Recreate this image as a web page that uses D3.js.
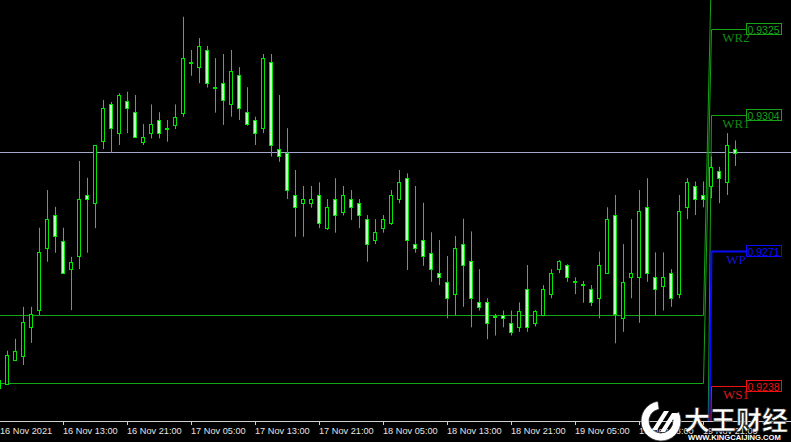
<!DOCTYPE html>
<html><head><meta charset="utf-8">
<script src="https://cdn.jsdelivr.net/npm/d3@7"></script>
<style>
html,body{margin:0;padding:0;background:#000;overflow:hidden;}
svg{display:block;}
</style></head>
<body>
<svg id="c" width="791" height="442"></svg>
<script>
// ---- DATA (hourly bars) ----
const opens = [0.92375,0.92385,0.92443,0.92453,0.92524,0.92565,0.92717,0.92797,0.92734,0.92665,
0.92697,0.92845,0.92826,0.92978,0.93068,0.92997,0.93076,0.93048,0.92976,0.92997,
0.93029,0.93010,0.93017,0.93047,0.93171,0.93158,0.93200,0.93110,0.93119,0.93067,
0.93139,0.93048,0.93029,0.93009,0.93170,0.92958,0.92948,0.92846,0.92826,0.92826,
0.92846,0.92765,0.92836,0.92805,0.92836,0.92826,0.92787,0.92736,0.92765,0.92777,
0.92836,0.92887,0.92726,0.92736,0.92705,0.92655,0.92634,0.92604,0.92726,0.92685,
0.92584,0.92584,0.92550,0.92553,0.92534,0.92523,0.92616,0.92534,0.92553,0.92604,
0.92665,0.92675,0.92635,0.92628,0.92616,0.92594,0.92656,0.92796,0.92545,0.92645,
0.92645,0.92816,0.92645,0.92625,0.92655,0.92604,0.92816,0.92868,0.92846,0.92868,
0.92905,0.92877,0.92958];
const highs = [0.92404,0.92466,0.92495,0.92573,0.92573,0.92766,0.92858,0.92817,0.92766,0.92695,
0.92929,0.92888,0.92968,0.93078,0.93073,0.93094,0.93098,0.93090,0.93019,0.93067,
0.93048,0.93029,0.93067,0.93281,0.93200,0.93229,0.93210,0.93180,0.93190,0.93200,
0.93158,0.93109,0.93037,0.93190,0.93190,0.93090,0.93009,0.92907,0.92868,0.92868,
0.92877,0.92836,0.92887,0.92868,0.92858,0.92836,0.92797,0.92787,0.92797,0.92858,
0.92907,0.92899,0.92868,0.92827,0.92755,0.92736,0.92697,0.92746,0.92788,0.92757,
0.92665,0.92594,0.92556,0.92564,0.92564,0.92584,0.92675,0.92565,0.92626,0.92665,
0.92687,0.92677,0.92645,0.92636,0.92626,0.92708,0.92816,0.92846,0.92726,0.92787,
0.92858,0.92887,0.92706,0.92706,0.92665,0.92846,0.92887,0.92879,0.92879,0.92940,
0.92915,0.92997,0.92979];
const lows = [0.92370,0.92382,0.92441,0.92431,0.92485,0.92553,0.92683,0.92705,0.92653,0.92565,
0.92665,0.92705,0.92765,0.92958,0.92949,0.92968,0.92997,0.92985,0.92968,0.92984,
0.92984,0.92976,0.93007,0.93037,0.93137,0.93119,0.93108,0.93047,0.93017,0.93037,
0.93029,0.93015,0.92968,0.92997,0.92940,0.92927,0.92836,0.92744,0.92744,0.92815,
0.92765,0.92761,0.92754,0.92796,0.92785,0.92765,0.92683,0.92726,0.92754,0.92773,
0.92826,0.92663,0.92705,0.92673,0.92634,0.92626,0.92545,0.92553,0.92573,0.92523,
0.92564,0.92494,0.92503,0.92523,0.92503,0.92512,0.92512,0.92525,0.92550,0.92594,
0.92655,0.92634,0.92604,0.92583,0.92575,0.92545,0.92653,0.92484,0.92512,0.92594,
0.92534,0.92634,0.92553,0.92564,0.92573,0.92594,0.92787,0.92797,0.92816,0.92838,
0.92826,0.92846,0.92917];
const closes = [0.92395,0.92456,0.92464,0.92536,0.92556,0.92707,0.92788,0.92746,0.92656,0.92683,
0.92836,0.92836,0.92967,0.93058,0.93009,0.93090,0.93058,0.92987,0.92987,0.93019,
0.92997,0.93008,0.93037,0.93180,0.93169,0.93210,0.93119,0.93108,0.93078,0.93149,
0.93058,0.93019,0.92997,0.93180,0.92968,0.92940,0.92858,0.92816,0.92836,0.92836,
0.92777,0.92816,0.92796,0.92846,0.92816,0.92796,0.92726,0.92755,0.92787,0.92846,
0.92877,0.92736,0.92716,0.92696,0.92665,0.92645,0.92594,0.92716,0.92675,0.92594,
0.92573,0.92534,0.92548,0.92545,0.92512,0.92564,0.92523,0.92564,0.92616,0.92655,
0.92685,0.92645,0.92633,0.92627,0.92586,0.92674,0.92787,0.92556,0.92634,0.92655,
0.92807,0.92655,0.92616,0.92645,0.92594,0.92807,0.92877,0.92836,0.92836,0.92915,
0.92887,0.92968,0.92949];

// x-axis tick labels and the bar index each one sits on
const tickBars   = [8,16,24,32,40,48,56,64,72,80,88];
const tickLabels = ["16 Nov 13:00","16 Nov 21:00","17 Nov 05:00","17 Nov 13:00","17 Nov 21:00",
                    "18 Nov 05:00","18 Nov 13:00","18 Nov 21:00","19 Nov 05:00","19 Nov 13:00","19 Nov 21:00"];
const firstLabel = "16 Nov 2021";

// pivot levels: previous period value, new period value
const pivotNames = ["WR3","WR2","WR1","WP","WS1"];
const pivotPrev  = [0.92553,0.92387,0.9122,0.9111,0.9098];
const pivotNew   = [0.9341,0.9325,0.9304,0.9271,0.9238];
const pivotShown = [false,true,true,true,true];
const pivotSwitchBar = 88;   // last bar of previous period
const bidPrice = 0.92950;

// ---- DRAW ----
const W = 791, H = 442;
const svg = d3.select("#c");
svg.append("rect").attr("width",W).attr("height",H).attr("fill","#000");

const n = opens.length;
const x = d3.scaleLinear().domain([0, n-1]).range([-0.5, 8*(n-1)-0.5]);
const y = d3.scaleLinear().domain([0.922968, 0.933219]).range([420, 0]);

svg.append("clipPath").attr("id","pc").append("rect").attr("x",0).attr("y",0).attr("width",W).attr("height",421);
const plot = svg.append("g").attr("clip-path","url(#pc)");

const CANDLE = "#00e600";
const BEARFILL = "#c4f4c4";
const PIVGREEN = "#16a316";

// bid line
plot.append("line").attr("x1",0).attr("x2",W)
  .attr("y1",Math.round(y(bidPrice))+0.5).attr("y2",Math.round(y(bidPrice))+0.5)
  .attr("stroke","#a4a8cc").attr("stroke-width",1);

// pivot lines
const pivColor = name => name==="WP" ? "#0a0aff" : (name==="WS1" ? "#ee1111" : PIVGREEN);
const labelBoxX = 746;
pivotNames.forEach((nm,k)=>{
  const pts = [
    [0, pivotPrev[k]],
    [x(pivotSwitchBar), pivotPrev[k]],
    [x(pivotSwitchBar+1), pivotNew[k]],
    [labelBoxX, pivotNew[k]]
  ];
  const ln = d3.line().x(d=>d[0]).y(d=>Math.round(y(d[1]))+0.5);
  plot.append("path").attr("d", ln(pts)).attr("fill","none")
    .attr("stroke", pivColor(nm)).attr("stroke-width", nm==="WP"?2:1);
});

// candles
const bars = d3.range(n).map(i=>({i,o:opens[i],h:highs[i],l:lows[i],c:closes[i]}));
const g = plot.append("g");
bars.forEach(b=>{
  const cx = x(b.i);
  g.append("line").attr("x1",cx).attr("x2",cx).attr("y1",y(b.h)).attr("y2",y(b.l))
    .attr("stroke",CANDLE).attr("stroke-width",1);
  const top = Math.round(y(Math.max(b.o,b.c)))+0.5;
  const bot = Math.round(y(Math.min(b.o,b.c)))+0.5;
  if (bot - top < 1) {
    g.append("line").attr("x1",cx-2).attr("x2",cx+2).attr("y1",top).attr("y2",top)
      .attr("stroke",CANDLE).attr("stroke-width",1);
  } else {
    g.append("rect").attr("x",cx-2).attr("y",top).attr("width",3).attr("height",bot-top)
      .attr("fill", b.c>=b.o ? "#000" : BEARFILL).attr("stroke",CANDLE).attr("stroke-width",1);
  }
});

// pivot labels
pivotNames.forEach((nm,k)=>{
  if(!pivotShown[k]) return;
  const col = pivColor(nm);
  const py = Math.round(y(pivotNew[k]))+0.5;
  svg.append("text").attr("x",736).attr("y",py+12).attr("text-anchor","middle")
    .attr("font-family","Liberation Serif").attr("font-size",13)
    .attr("fill", nm==="WP"?"#1414d8":(nm==="WS1"?"#d41c1c":"#168616")).text(nm);
  svg.append("rect").attr("x",labelBoxX+0.5).attr("y",py-6).attr("width",35).attr("height",11)
    .attr("fill","none").attr("stroke",col).attr("stroke-width",1);
  svg.append("text").attr("x",labelBoxX+1.5).attr("y",py+4).attr("font-family","Liberation Sans")
    .attr("font-size",10.5).attr("fill",col).text(pivotNew[k].toFixed(4));
});

// x axis
const ax = svg.append("g");
ax.append("line").attr("x1",0).attr("x2",W).attr("y1",421.5).attr("y2",421.5).attr("stroke","#d0d0d0");
tickBars.forEach((b,k)=>{
  const tx = x(b);
  ax.append("line").attr("x1",tx).attr("x2",tx).attr("y1",421.5).attr("y2",425).attr("stroke","#d0d0d0");
  ax.append("text").attr("x",tx-0.5).attr("y",434).attr("font-family","Liberation Sans")
    .attr("font-size",9.2).attr("fill","#e4e4e4").text(tickLabels[k]);
});
ax.append("text").attr("x",0).attr("y",434).attr("font-family","Liberation Sans")
  .attr("font-size",9.2).attr("fill","#e4e4e4").text(firstLabel);

// watermark (logo + site name)
const wm = svg.append("g");
const arc = d3.arc().innerRadius(12).outerRadius(20).startAngle(0.35*Math.PI).endAngle(1.95*Math.PI);
wm.append("path").attr("d",arc()).attr("transform","translate(661,421)").attr("fill","#fff")
  .attr("stroke","#333").attr("stroke-width",0.8);
wm.append("path").attr("d","M652,430 L664,411 L669,411 L657,430 Z M660,432 L672,413 L677,413 L665,432 Z")
  .attr("fill","#fff");
wm.append("text").attr("x",684).attr("y",430).attr("font-family","Noto Sans CJK SC").attr("font-weight","bold")
  .attr("font-size",26).attr("fill","#fff").attr("stroke","#222").attr("stroke-width",0.6).text("大王财经");
wm.append("text").attr("x",688).attr("y",440).attr("font-family","Liberation Sans").attr("font-weight","bold")
  .attr("font-size",7.6).attr("fill","#fff").text("WWW.KINGCAIJING.COM");
</script>
</body></html>
